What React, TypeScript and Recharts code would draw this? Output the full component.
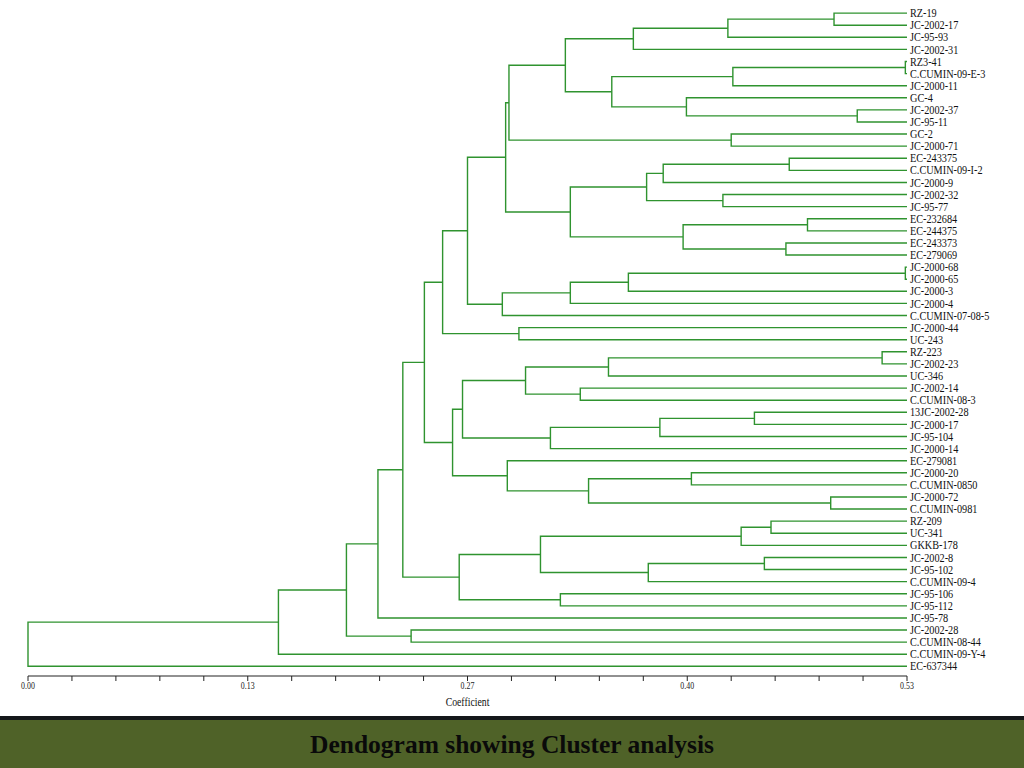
import { ScatterChart, Scatter, XAxis, YAxis } from 'recharts';

// leaf labels, top to bottom
const leaves = [
  'RZ-19', 'JC-2002-17', 'JC-95-93', 'JC-2002-31', 'RZ3-41', 'C.CUMIN-09-E-3', 'JC-2000-11',
  'GC-4', 'JC-2002-37', 'JC-95-11', 'GC-2', 'JC-2000-71', 'EC-243375', 'C.CUMIN-09-I-2',
  'JC-2000-9', 'JC-2002-32', 'JC-95-77', 'EC-232684', 'EC-244375', 'EC-243373', 'EC-279069',
  'JC-2000-68', 'JC-2000-65', 'JC-2000-3', 'JC-2000-4', 'C.CUMIN-07-08-5', 'JC-2000-44',
  'UC-243', 'RZ-223', 'JC-2002-23', 'UC-346', 'JC-2002-14', 'C.CUMIN-08-3', '13JC-2002-28',
  'JC-2000-17', 'JC-95-104', 'JC-2000-14', 'EC-279081', 'JC-2000-20', 'C.CUMIN-0850',
  'JC-2000-72', 'C.CUMIN-0981', 'RZ-209', 'UC-341', 'GKKB-178', 'JC-2002-8', 'JC-95-102',
  'C.CUMIN-09-4', 'JC-95-106', 'JC-95-112', 'JC-95-78', 'JC-2002-28', 'C.CUMIN-08-44',
  'C.CUMIN-09-Y-4', 'EC-637344',
];

// merges: [childA, childB, coefficient]; ids < 55 are leaves, 55 + k is merge k
const merges: [number, number, number][] = [
  [0, 1, 0.486], [55, 2, 0.422], [56, 3, 0.365], [4, 5, 0.529], [58, 6, 0.425],
  [8, 9, 0.5], [7, 60, 0.397], [59, 61, 0.352], [57, 62, 0.324], [10, 11, 0.424],
  [63, 64, 0.29], [12, 13, 0.459], [66, 14, 0.383], [15, 16, 0.419], [67, 68, 0.373],
  [17, 18, 0.47], [19, 20, 0.457], [70, 71, 0.395], [69, 72, 0.327], [65, 73, 0.288],
  [21, 22, 0.529], [75, 23, 0.362], [76, 24, 0.327], [77, 25, 0.286], [74, 78, 0.265],
  [26, 27, 0.296], [79, 80, 0.25], [28, 29, 0.515], [82, 30, 0.35], [31, 32, 0.333],
  [83, 84, 0.3], [33, 34, 0.438], [86, 35, 0.381], [87, 36, 0.315], [85, 88, 0.262],
  [38, 39, 0.4], [40, 41, 0.484], [90, 91, 0.338], [37, 92, 0.289], [89, 93, 0.256],
  [81, 94, 0.239], [42, 43, 0.448], [96, 44, 0.43], [45, 46, 0.444], [98, 47, 0.374],
  [97, 99, 0.309], [48, 49, 0.321], [100, 101, 0.26], [95, 102, 0.226], [103, 50, 0.211],
  [51, 52, 0.231], [104, 105, 0.192], [106, 53, 0.151], [107, 54, 0],
];

const axisTicks = [
  0, 0.0265, 0.053, 0.0795, 0.106, 0.1325, 0.159, 0.1855, 0.212, 0.2385, 0.265,
  0.2915, 0.318, 0.3445, 0.371, 0.3975, 0.424, 0.4505, 0.477, 0.5035, 0.53,
];
const axisTickLabels = [
  '0.00', '', '', '', '', '0.13', '', '', '', '', '0.27',
  '', '', '', '', '0.40', '', '', '', '', '0.53',
];

const LEAF_COEF = 0.53;
const LINE = '#2f932f';

const pos: { x: number; y: number }[] = leaves.map((_, i) => ({ x: LEAF_COEF, y: i }));
merges.forEach(([a, b, h]) => {
  pos.push({ x: h, y: (pos[a].y + pos[b].y) / 2 });
});

const brackets = merges.map(([a, b, h]) => [
  { x: pos[a].x, y: pos[a].y },
  { x: h, y: pos[a].y },
  { x: h, y: pos[b].y },
  { x: pos[b].x, y: pos[b].y },
]);

const LeafTick = ({ x, y, payload }: any) => (
  <text
    transform={`translate(${x},${y}) scale(0.82,1)`}
    dy="0.33em"
    fontFamily="'Liberation Serif', serif"
    fontSize={12.5}
    fill="#111"
  >
    {leaves[payload.value]}
  </text>
);

const CoefTick = ({ x, y, index }: any) => {
  const label = axisTickLabels[index];
  if (!label) return null;
  return (
    <text
      transform={`translate(${x},${y}) scale(0.75,1)`}
      dy="0.55em"
      textAnchor="middle"
      fontFamily="'Liberation Serif', serif"
      fontSize={10.5}
      fill="#222"
      stroke="none"
    >
      {label}
    </text>
  );
};

const AxisTitle = ({ viewBox }: any) => (
  <text
    transform={`translate(${viewBox.x + viewBox.width / 2},${viewBox.y + 30}) scale(0.85,1)`}
    textAnchor="middle"
    fontFamily="'Liberation Serif', serif"
    fontSize={11.5}
    fill="#111"
  >
    Coefficient
  </text>
);

export default function App() {
  return (
    <div style={{ position: 'absolute', left: 0, top: 0, width: 1024, height: 768, background: '#fff', overflow: 'hidden' }}>
      <ScatterChart width={1024} height={716} margin={{ top: 1, right: 0, bottom: 0, left: 28 }}>
        <XAxis
          type="number"
          dataKey="x"
          domain={[0, 0.53]}
          ticks={axisTicks}
          interval={0}
          height={40}
          tickSize={5}
          tickMargin={2}
          stroke="#222"
          tick={<CoefTick />}
          label={<AxisTitle />}
        />
        <YAxis
          type="number"
          dataKey="y"
          orientation="right"
          reversed
          domain={[-1, 54.8]}
          ticks={leaves.map((_, i) => i)}
          interval={0}
          width={117}
          tickSize={0}
          tickMargin={3}
          axisLine={false}
          tickLine={false}
          tick={<LeafTick />}
        />
        {brackets.map((pts, i) => (
          <Scatter
            key={i}
            data={pts}
            line={{ stroke: LINE, strokeWidth: 1.4 }}
            lineType="joint"
            shape={() => <g />}
            isAnimationActive={false}
          />
        ))}
      </ScatterChart>
      <div style={{ position: 'absolute', left: 0, top: 716, width: 1024, height: 4, background: '#15171a' }} />
      <div
        style={{
          position: 'absolute',
          left: 0,
          top: 720,
          width: 1024,
          height: 48,
          background: '#4f6228',
          color: '#0a0a0a',
          textAlign: 'center',
          lineHeight: '50px',
          fontFamily: "'Liberation Serif', serif",
          fontWeight: 'bold',
          fontSize: 25.5,
        }}
      >
        Dendogram showing Cluster analysis
      </div>
    </div>
  );
}
